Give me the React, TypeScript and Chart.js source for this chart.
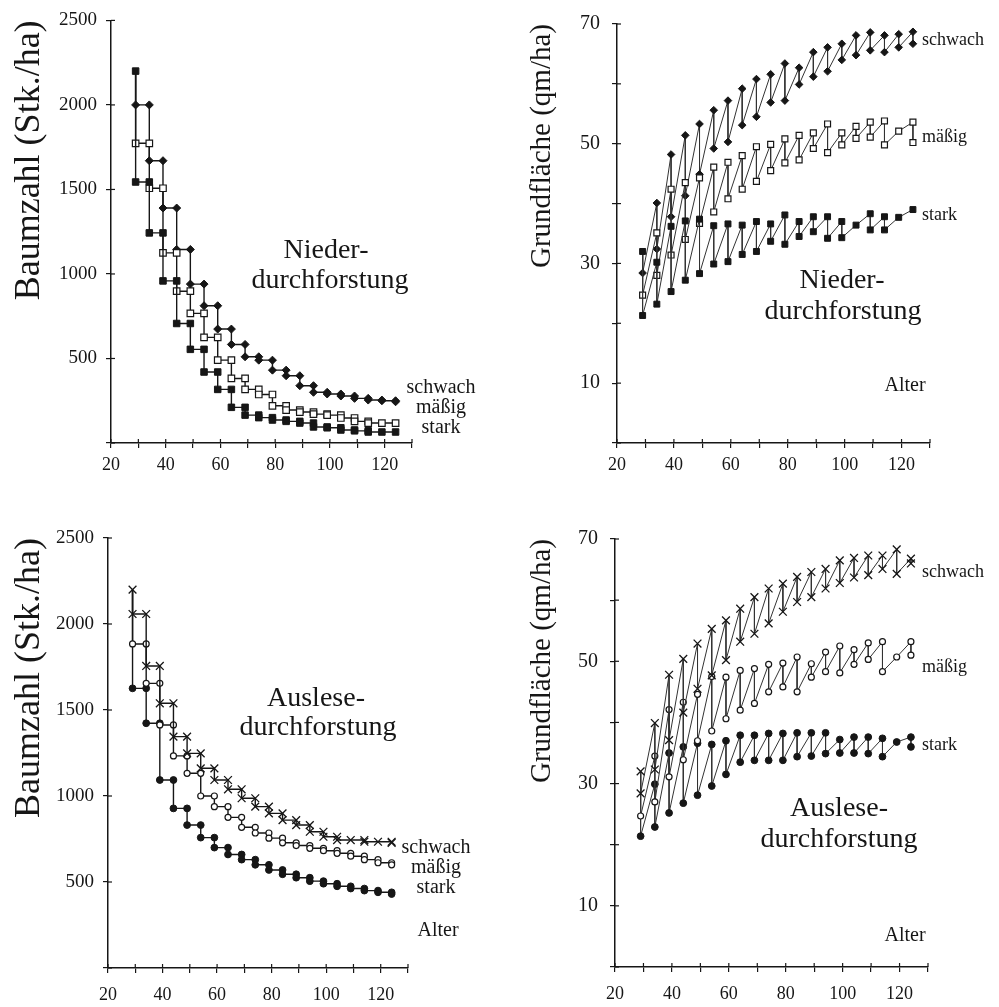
import React, { useEffect, useRef } from 'react';
import { Chart, registerables } from 'chart.js';

Chart.register(...registerables);

// ---------- shared axes ----------
const ages = [29, 34, 39, 44, 49, 54, 59, 64, 69, 74, 79, 84, 89, 94, 99, 104, 109, 114, 119, 124];
const xTicks = [20, 30, 40, 50, 60, 70, 80, 90, 100, 110, 120, 130];
const xTickLabels = [20, 40, 60, 80, 100, 120];
const stemTicks = [0, 500, 1000, 1500, 2000, 2500];
const stemTickLabels = [500, 1000, 1500, 2000, 2500];
const baTicks = [0, 10, 20, 30, 40, 50, 60, 70];
const baTickLabels = [10, 30, 50, 70];

// ---------- Niederdurchforstung: Baumzahl (level before first thinning, then after each thinning) ----------
const nStemSchwach = [2200, 2000, 1670, 1390, 1145, 940, 812, 674, 583, 510, 490, 431, 398, 339, 300, 290, 278, 264, 254, 250, 244];
const nStemMaessig = [2200, 1773, 1507, 1125, 898, 767, 625, 490, 382, 317, 287, 220, 195, 183, 171, 165, 148, 128, 118, 118, 118];
const nStemStark = [2200, 1544, 1243, 959, 707, 554, 420, 317, 211, 165, 150, 136, 128, 118, 95, 90, 77, 72, 65, 65, 65];

// ---------- Auslesedurchforstung: Baumzahl ----------
const aStemSchwach = [2200, 2058, 1756, 1539, 1345, 1248, 1161, 1093, 1039, 987, 938, 899, 860, 831, 792, 763, 744, 744, 734, 734, 728];
const aStemMaessig = [2200, 1884, 1655, 1413, 1233, 1132, 1000, 938, 876, 818, 785, 755, 728, 712, 696, 682, 667, 650, 630, 612, 600];
const aStemStark = [2200, 1626, 1423, 1093, 928, 831, 758, 700, 660, 630, 600, 570, 545, 525, 505, 490, 475, 462, 450, 440, 430];

// ---------- Niederdurchforstung: Grundfläche vor / nach Durchforstung ----------
const nBaSchwachVor = [32.0, 40.1, 48.2, 51.4, 53.3, 55.6, 57.2, 59.2, 60.8, 61.6, 63.4, 62.7, 65.3, 66.1, 66.7, 68.1, 68.6, 68.1, 68.3, 68.7];
const nBaSchwachNach = [28.4, 32.4, 37.8, 41.3, 44.9, 49.2, 50.3, 53.1, 54.5, 56.9, 57.2, 59.9, 61.2, 62.1, 64.0, 64.8, 65.6, 65.3, 66.1, 66.7];
const nBaMaessigVor = [32.0, 35.1, 42.4, 43.5, 44.3, 46.1, 46.9, 48.0, 49.5, 49.9, 50.8, 51.4, 51.8, 53.3, 51.8, 52.9, 53.6, 53.8, 52.1, 53.6];
const nBaMaessigNach = [24.7, 28.0, 31.4, 34.0, 36.7, 38.6, 40.8, 42.4, 43.7, 45.5, 46.8, 47.3, 49.2, 48.5, 49.8, 50.9, 51.1, 49.8, 52.1, 50.2];
const nBaStarkVor = [32.0, 30.2, 36.2, 37.1, 37.4, 36.3, 36.6, 36.4, 37.0, 36.6, 38.1, 37.0, 37.8, 37.8, 37.0, 36.4, 38.3, 37.8, 37.7, 39.0];
const nBaStarkNach = [21.3, 23.2, 25.3, 27.2, 28.3, 29.9, 30.3, 31.5, 32.0, 33.7, 33.2, 34.5, 35.3, 34.2, 34.3, 36.4, 35.6, 35.6, 37.7, 39.0];

// ---------- Auslesedurchforstung: Grundfläche vor / nach Durchforstung ----------
const aBaSchwachVor = [32.0, 39.9, 47.8, 50.4, 52.9, 55.3, 56.7, 58.6, 60.5, 61.9, 62.7, 63.8, 64.6, 65.1, 66.5, 66.9, 67.3, 67.3, 68.3, 66.8];
const aBaSchwachNach = [28.4, 32.3, 37.1, 41.6, 45.5, 47.7, 50.2, 53.2, 54.5, 56.2, 58.1, 59.7, 60.5, 61.9, 62.8, 63.7, 64.1, 65.1, 64.3, 66.0];
const aBaMaessigVor = [32.0, 34.5, 42.1, 43.3, 44.6, 47.5, 47.4, 48.5, 48.8, 49.5, 49.7, 50.7, 49.6, 51.5, 52.5, 51.9, 53.0, 53.2, 50.7, 53.2];
const aBaMaessigNach = [24.7, 27.0, 31.1, 33.9, 37.0, 38.6, 40.6, 42.0, 43.1, 45.0, 45.8, 45.0, 47.4, 48.3, 48.1, 49.5, 50.3, 48.3, 50.7, 51.0];
const aBaStarkVor = [32.0, 29.9, 35.0, 36.0, 36.6, 36.4, 37.0, 37.9, 37.9, 38.2, 38.2, 38.3, 38.3, 38.3, 37.2, 37.6, 37.6, 37.4, 36.8, 37.6];
const aBaStarkNach = [21.4, 22.9, 25.2, 26.8, 28.1, 29.6, 31.5, 33.5, 33.8, 33.8, 33.8, 34.4, 34.5, 34.9, 35.0, 35.0, 34.9, 34.4, 36.8, 36.0];

const FONT = "'Liberation Serif', 'Times New Roman', serif";
const INK = '#161616';

function stepPoints(levels: number[]) {
  const pts: { x: number; y: number }[] = [];
  ages.forEach((a, i) => {
    pts.push({ x: a, y: levels[i] });
    if (levels[i + 1] !== undefined && levels[i + 1] !== levels[i]) pts.push({ x: a, y: levels[i + 1] });
  });
  return pts;
}

function zigPoints(vor: number[], nach: number[]) {
  const pts: { x: number; y: number }[] = [];
  ages.forEach((a, i) => {
    pts.push({ x: a, y: vor[i] });
    if (nach[i] !== vor[i]) pts.push({ x: a, y: nach[i] });
  });
  return pts;
}

type Marker = { style: string; r: number; fill: string; bw: number };

function ds(data: { x: number; y: number }[], m: Marker, lineW: number, lineC: string, hideFirst: boolean) {
  return {
    data,
    borderColor: lineC,
    borderWidth: lineW,
    tension: 0,
    fill: false,
    pointStyle: m.style,
    pointRadius: (c: any) => (hideFirst && c.dataIndex === 0 ? 0 : m.r),
    pointBackgroundColor: m.fill,
    pointBorderColor: INK,
    pointBorderWidth: m.bw,
  };
}

const mDiamond: Marker = { style: 'rectRot', r: 4, fill: INK, bw: 1 };
const mOpenSq: Marker = { style: 'rect', r: 4.6, fill: '#ffffff', bw: 1.2 };
const mFillSq: Marker = { style: 'rect', r: 4.6, fill: INK, bw: 1 };
const mCross: Marker = { style: 'crossRot', r: 5.5, fill: INK, bw: 1.3 };
const mOpenCi: Marker = { style: 'circle', r: 3, fill: '#ffffff', bw: 1.2 };
const mFillCi: Marker = { style: 'circle', r: 3.4, fill: INK, bw: 1 };

const innerTicks = {
  id: 'innerTicks',
  afterDatasetsDraw(chart: any) {
    const { ctx, chartArea } = chart;
    ctx.save();
    ctx.strokeStyle = INK;
    ctx.lineWidth = 1.2;
    const xs = chart.scales.x;
    xs.ticks.forEach((t: any) => {
      const px = xs.getPixelForValue(t.value);
      ctx.beginPath();
      ctx.moveTo(px, chartArea.bottom);
      ctx.lineTo(px, chartArea.bottom - 4);
      ctx.stroke();
    });
    const ys = chart.scales.y;
    ys.ticks.forEach((t: any) => {
      const py = ys.getPixelForValue(t.value);
      ctx.beginPath();
      ctx.moveTo(chartArea.left, py);
      ctx.lineTo(chartArea.left + 4, py);
      ctx.stroke();
    });
    ctx.restore();
  },
};

type PanelCfg = {
  left: number; top: number; width: number; height: number;
  yMax: number; yTicks: number[]; yLabels: number[]; yTickSize: number; yTickPad: number;
  yTitle: string; yTitleSize: number; yTitlePad: number;
  yAxisWidth: number; padTop: number; padRight: number; xAxisHeight: number; xTickPad: number;
  datasets: any[];
};

function buildConfig(p: PanelCfg): any {
  return {
    type: 'line',
    data: { datasets: p.datasets },
    plugins: [innerTicks],
    options: {
      animation: false,
      responsive: false,
      maintainAspectRatio: false,
      events: [],
      layout: { padding: { top: p.padTop, right: p.padRight, left: 0, bottom: 0 } },
      plugins: { legend: { display: false }, tooltip: { enabled: false } },
      scales: {
        x: {
          type: 'linear',
          min: 20,
          max: 130,
          afterBuildTicks: (s: any) => { s.ticks = xTicks.map((v) => ({ value: v })); },
          afterFit: (s: any) => { s.height = p.xAxisHeight; },
          ticks: {
            autoSkip: false, maxRotation: 0, padding: p.xTickPad, color: INK,
            font: { family: FONT, size: 18 },
            callback: (v: any) => (xTickLabels.includes(Number(v)) ? String(v) : ''),
          },
          grid: { drawOnChartArea: false, drawTicks: true, tickLength: 5, color: INK, lineWidth: 1.2 },
          border: { display: true, color: INK, width: 1.5 },
        },
        y: {
          type: 'linear',
          min: 0,
          max: p.yMax,
          afterBuildTicks: (s: any) => { s.ticks = p.yTicks.map((v) => ({ value: v })); },
          afterFit: (s: any) => { s.width = p.yAxisWidth; },
          ticks: {
            autoSkip: false, padding: p.yTickPad, color: INK,
            font: { family: FONT, size: p.yTickSize },
            callback: (v: any) => (p.yLabels.includes(Number(v)) ? String(v) : ''),
          },
          grid: { drawOnChartArea: false, drawTicks: true, tickLength: 5, color: INK, lineWidth: 1.2 },
          border: { display: true, color: INK, width: 1.5 },
          title: {
            display: true, text: p.yTitle, color: INK, align: 'end',
            font: { family: FONT, size: p.yTitleSize, weight: 'normal' },
            padding: { top: p.yTitlePad, bottom: 0 },
          },
        },
      },
    },
  };
}

function Panel({ cfg }: { cfg: PanelCfg }) {
  const ref = useRef<HTMLCanvasElement>(null);
  useEffect(() => {
    const chart = new Chart(ref.current as HTMLCanvasElement, buildConfig(cfg));
    return () => chart.destroy();
  }, []);
  return (
    <canvas
      ref={ref}
      width={cfg.width}
      height={cfg.height}
      style={{ position: 'absolute', left: cfg.left, top: cfg.top, width: cfg.width, height: cfg.height }}
    />
  );
}

const thick = 1.4;
const thin = 1;

const panels: PanelCfg[] = [
  {
    left: 0, top: 0, width: 500, height: 500,
    yMax: 2500, yTicks: stemTicks, yLabels: stemTickLabels, yTickSize: 19, yTickPad: 9,
    yTitle: 'Baumzahl (Stk./ha)', yTitleSize: 36, yTitlePad: 8,
    yAxisWidth: 111, padTop: 19, padRight: 88, xAxisHeight: 57, xTickPad: 6,
    datasets: [
      ds(stepPoints(nStemStark), mFillSq, thick, INK, false),
      ds(stepPoints(nStemMaessig), mOpenSq, thick, INK, true),
      ds(stepPoints(nStemSchwach), mDiamond, thick, INK, true),
    ],
  },
  {
    left: 500, top: 0, width: 499, height: 500,
    yMax: 70, yTicks: baTicks, yLabels: baTickLabels, yTickSize: 20, yTickPad: 12,
    yTitle: 'Grundfläche (qm/ha)', yTitleSize: 29, yTitlePad: 25,
    yAxisWidth: 117, padTop: 16, padRight: 69, xAxisHeight: 57, xTickPad: 6,
    datasets: [
      ds(zigPoints(nBaStarkVor, nBaStarkNach), { ...mFillSq, r: 4.2 }, thin, '#333', false),
      ds(zigPoints(nBaMaessigVor, nBaMaessigNach), { ...mOpenSq, r: 4.2 }, thin, '#333', true),
      ds(zigPoints(nBaSchwachVor, nBaSchwachNach), { ...mDiamond, r: 3.8 }, thin, '#333', true),
    ],
  },
  {
    left: 0, top: 500, width: 500, height: 507,
    yMax: 2500, yTicks: stemTicks, yLabels: stemTickLabels, yTickSize: 19, yTickPad: 9,
    yTitle: 'Baumzahl (Stk./ha)', yTitleSize: 36, yTitlePad: 8,
    yAxisWidth: 108, padTop: 38, padRight: 92, xAxisHeight: 39, xTickPad: 11,
    datasets: [
      ds(stepPoints(aStemSchwach), mCross, thick, INK, false),
      ds(stepPoints(aStemMaessig), mOpenCi, thick, INK, true),
      ds(stepPoints(aStemStark), mFillCi, thick, INK, true),
    ],
  },
  {
    left: 500, top: 500, width: 499, height: 507,
    yMax: 70, yTicks: baTicks, yLabels: baTickLabels, yTickSize: 20, yTickPad: 12,
    yTitle: 'Grundfläche (qm/ha)', yTitleSize: 29, yTitlePad: 25,
    yAxisWidth: 115, padTop: 39, padRight: 71, xAxisHeight: 40, xTickPad: 11,
    datasets: [
      ds(zigPoints(aBaSchwachVor, aBaSchwachNach), mCross, thin, '#333', false),
      ds(zigPoints(aBaMaessigVor, aBaMaessigNach), mOpenCi, thin, '#333', true),
      ds(zigPoints(aBaStarkVor, aBaStarkNach), mFillCi, thin, '#333', true),
    ],
  },
];

type Note = { text: string; x: number; base: number; size: number; align: 'center' | 'left' };

const notes: Note[] = [
  { text: 'Nieder-', x: 326, base: 258, size: 28, align: 'center' },
  { text: 'durchforstung', x: 330, base: 288, size: 28, align: 'center' },
  { text: 'schwach', x: 441, base: 393, size: 20, align: 'center' },
  { text: 'mäßig', x: 441, base: 413, size: 20, align: 'center' },
  { text: 'stark', x: 441, base: 433, size: 20, align: 'center' },

  { text: 'schwach', x: 922, base: 45, size: 18, align: 'left' },
  { text: 'mäßig', x: 922, base: 142, size: 18, align: 'left' },
  { text: 'stark', x: 922, base: 220, size: 18, align: 'left' },
  { text: 'Nieder-', x: 842, base: 288, size: 28, align: 'center' },
  { text: 'durchforstung', x: 843, base: 319, size: 28, align: 'center' },
  { text: 'Alter', x: 905, base: 391, size: 20, align: 'center' },

  { text: 'Auslese-', x: 316, base: 706, size: 28, align: 'center' },
  { text: 'durchforstung', x: 318, base: 735, size: 28, align: 'center' },
  { text: 'schwach', x: 436, base: 853, size: 20, align: 'center' },
  { text: 'mäßig', x: 436, base: 873, size: 20, align: 'center' },
  { text: 'stark', x: 436, base: 893, size: 20, align: 'center' },
  { text: 'Alter', x: 438, base: 936, size: 20, align: 'center' },

  { text: 'schwach', x: 922, base: 577, size: 18, align: 'left' },
  { text: 'mäßig', x: 922, base: 672, size: 18, align: 'left' },
  { text: 'stark', x: 922, base: 750, size: 18, align: 'left' },
  { text: 'Auslese-', x: 839, base: 816, size: 28, align: 'center' },
  { text: 'durchforstung', x: 839, base: 847, size: 28, align: 'center' },
  { text: 'Alter', x: 905, base: 941, size: 20, align: 'center' },
];

function NoteText({ n }: { n: Note }) {
  const top = n.base - 0.8375 * n.size;
  const style: React.CSSProperties = {
    position: 'absolute',
    top,
    fontFamily: FONT,
    fontSize: n.size,
    lineHeight: `${n.size}px`,
    color: INK,
    whiteSpace: 'nowrap',
  };
  if (n.align === 'center') {
    style.left = n.x - 150;
    style.width = 300;
    style.textAlign = 'center';
  } else {
    style.left = n.x;
  }
  return <div style={style}>{n.text}</div>;
}

export default function App() {
  return (
    <div style={{ position: 'absolute', left: 0, top: 0, width: 999, height: 1007, background: '#fff', overflow: 'hidden' }}>
      {panels.map((p, i) => (
        <Panel key={i} cfg={p} />
      ))}
      {notes.map((n, i) => (
        <NoteText key={i} n={n} />
      ))}
    </div>
  );
}
